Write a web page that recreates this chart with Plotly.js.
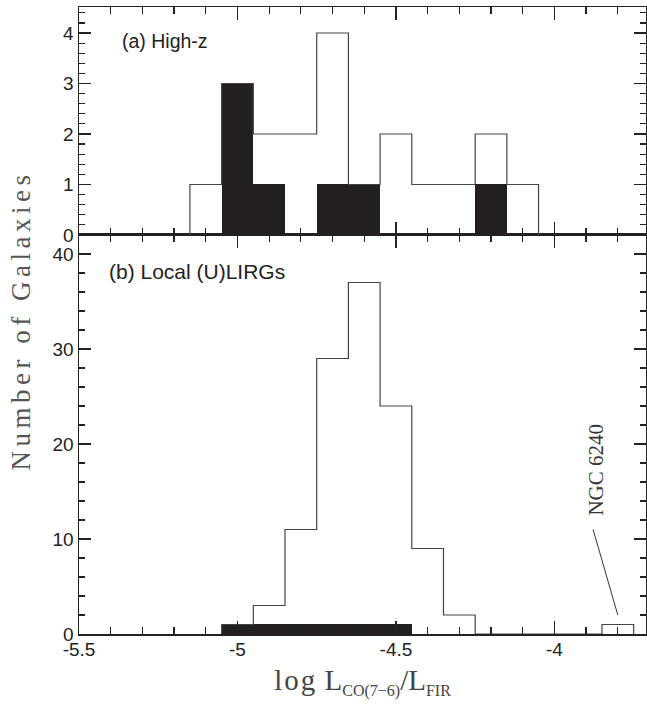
<!DOCTYPE html>
<html>
<head>
<meta charset="utf-8">
<script src="https://cdn.plot.ly/plotly-3.0.1.min.js"></script>
<style>
  html, body { margin: 0; padding: 0; background: #fff; }
  #chart { width: 647px; height: 711px; }
</style>
</head>
<body>
<div id="chart"></div>
<script>
// ---- data ----
const binWidth = 0.1;
const highzCenters = [-5.1, -5.0, -4.9, -4.8, -4.7, -4.6, -4.5, -4.4, -4.3, -4.2, -4.1];
const highzAll     = [1, 3, 2, 2, 4, 1, 2, 1, 1, 2, 1];
const highzFilled  = [0, 3, 1, 0, 1, 1, 0, 0, 0, 1, 0];
const localCenters = [-5.0, -4.9, -4.8, -4.7, -4.6, -4.5, -4.4, -4.3, -4.2, -4.1, -4.0, -3.9, -3.8];
const localAll     = [1, 3, 11, 29, 37, 24, 9, 2, 0, 0, 0, 0, 1];
const localFilled  = [1, 1, 1, 1, 1, 1, 0, 0, 0, 0, 0, 0, 0];
const xTickVals = [-5.5, -5, -4.5, -4];
const xTickText = ['-5.5', '-5', '-4.5', '-4'];
const panelLabels = ['(a) High-z', '(b) Local (U)LIRGs'];
const yTitle = 'Number of Galaxies';
const noteText = 'NGC 6240';

// step outline from bin centres and counts
function stepXY(centers, counts) {
  const h = binWidth / 2;
  const xs = [centers[0] - h], ys = [0];
  for (let i = 0; i < centers.length; i++) { xs.push(centers[i] - h); ys.push(counts[i]); }
  xs.push(centers[centers.length - 1] + h); ys.push(0);
  return {xs, ys};
}

const fillCol = '#231f20';
const lineCol = '#444';
const axCol = '#222';

const hz = stepXY(highzCenters, highzAll);
const lc = stepXY(localCenters, localAll);

const traces = [
  {type: 'bar', x: highzCenters, y: highzFilled, width: binWidth, xaxis: 'x2', yaxis: 'y2',
   marker: {color: fillCol, line: {width: 0}}, hoverinfo: 'skip'},
  {type: 'scatter', mode: 'lines', x: hz.xs, y: hz.ys, xaxis: 'x2', yaxis: 'y2',
   line: {shape: 'hv', color: lineCol, width: 1.2}, hoverinfo: 'skip'},
  {type: 'bar', x: localCenters, y: localFilled, width: binWidth, xaxis: 'x', yaxis: 'y',
   marker: {color: fillCol, line: {width: 0}}, hoverinfo: 'skip'},
  {type: 'scatter', mode: 'lines', x: lc.xs, y: lc.ys, xaxis: 'x', yaxis: 'y',
   line: {shape: 'hv', color: lineCol, width: 1.2}, hoverinfo: 'skip'}
];

const tickFont = {family: 'Liberation Sans, Arial, sans-serif', size: 19, color: axCol};
const serif = 'Liberation Serif, Times New Roman, serif';
const split = 0.6364;

function xAxisBase() {
  return {
    range: [-5.5, -3.711], domain: [0, 1],
    tickmode: 'array', tickvals: xTickVals, ticktext: xTickText,
    ticks: 'inside', ticklen: 13, tickwidth: 1.2, tickcolor: axCol,
    minor: {tickmode: 'linear', tick0: -5.5, dtick: 0.1, ticks: 'inside', ticklen: 7, tickwidth: 1.2, tickcolor: axCol},
    showline: true, linecolor: axCol, linewidth: 1.5, mirror: 'allticks',
    showgrid: false, zeroline: false, tickfont: tickFont
  };
}

const xaxis = Object.assign(xAxisBase(), {anchor: 'y', ticklabelstandoff: -2,
  title: {text: '<span style="letter-spacing:2px">log</span> L<sub><span style="font-size:16px">CO(7−6)</span></sub>/L<sub><span style="font-size:16px">FIR</span></sub>',
          font: {family: serif, size: 29, color: '#444'}, standoff: 10}});
const xaxis2 = Object.assign(xAxisBase(), {anchor: 'y2', matches: 'x', showticklabels: false});

const yaxis = {
  domain: [0, split], range: [0, 42.0], anchor: 'x',
  tickmode: 'linear', tick0: 0, dtick: 10,
  ticks: 'inside', ticklen: 12, tickwidth: 1.2, tickcolor: axCol,
  minor: {tickmode: 'linear', tick0: 0, dtick: 2, ticks: 'inside', ticklen: 6, tickwidth: 1.2, tickcolor: axCol},
  showline: true, linecolor: axCol, linewidth: 1.5, mirror: 'allticks',
  showgrid: false, zeroline: false, tickfont: tickFont, ticklabelstandoff: 0
};
const yaxis2 = {
  domain: [split, 1], range: [0, 4.515], anchor: 'x2',
  tickmode: 'linear', tick0: 0, dtick: 1,
  ticks: 'inside', ticklen: 12, tickwidth: 1.2, tickcolor: axCol,
  minor: {tickmode: 'linear', tick0: 0, dtick: 0.2, ticks: 'inside', ticklen: 6, tickwidth: 1.2, tickcolor: axCol},
  showline: true, linecolor: axCol, linewidth: 1.5, mirror: 'allticks',
  showgrid: false, zeroline: false, tickfont: tickFont, ticklabelstandoff: 0
};

const layout = {
  width: 647, height: 711,
  margin: {l: 79, r: 1, t: 7, b: 77},
  paper_bgcolor: '#fff', plot_bgcolor: '#fff',
  showlegend: false, bargap: 0,
  xaxis: xaxis, xaxis2: xaxis2, yaxis: yaxis, yaxis2: yaxis2,
  annotations: [
    {text: panelLabels[0], xref: 'paper', yref: 'paper', x: 0.0717, y: 0.946, xanchor: 'left', yanchor: 'middle',
     showarrow: false, font: {family: 'Liberation Sans, Arial, sans-serif', size: 19.5, color: axCol}},
    {text: panelLabels[1], xref: 'paper', yref: 'paper', x: 0.0496, y: 0.5776, xanchor: 'left', yanchor: 'middle',
     showarrow: false, font: {family: 'Liberation Sans, Arial, sans-serif', size: 21, color: axCol}},
    {text: '<span style="letter-spacing:4.5px">' + yTitle + '</span>', xref: 'paper', yref: 'paper', x: -0.1024, y: 0.5,
     xanchor: 'center', yanchor: 'middle',
     textangle: -90, showarrow: false, font: {family: serif, size: 27, color: '#555'}},
    {text: noteText, xref: 'x', yref: 'y', x: -3.869, y: 17.3, xanchor: 'center', yanchor: 'middle',
     textangle: -90, showarrow: false, font: {family: serif, size: 21, color: '#333'}}
  ],
  shapes: [
    {type: 'line', xref: 'x', yref: 'y', x0: -3.878, y0: 11, x1: -3.8, y1: 2, line: {color: '#333', width: 1}}
  ]
};

Plotly.newPlot('chart', traces, layout, {displayModeBar: false, staticPlot: true});
</script>
</body>
</html>
